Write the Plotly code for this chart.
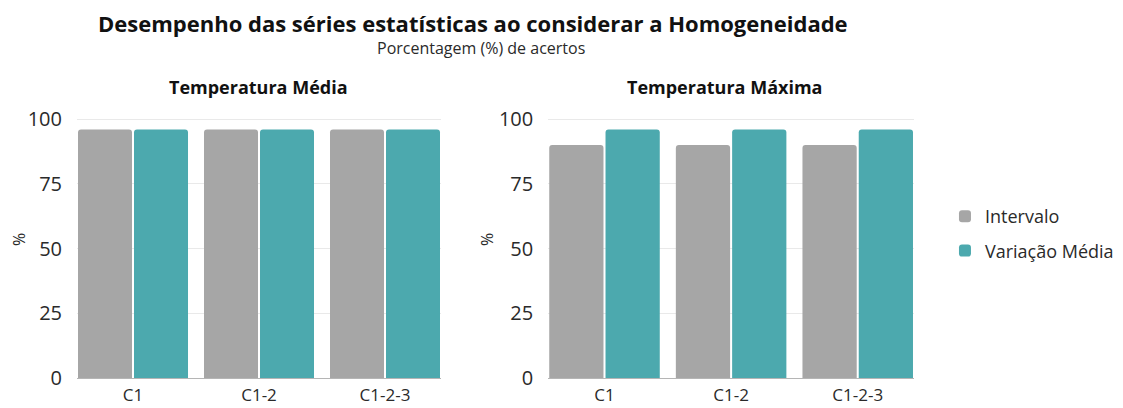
import plotly.graph_objects as go
from plotly.subplots import make_subplots

categories = ["C1", "C1-2", "C1-2-3"]
media_intervalo = [96, 96, 96]
media_variacao = [96, 96, 96]
maxima_intervalo = [90, 90, 90]
maxima_variacao = [96, 96, 96]
y_ticks = [0, 25, 50, 75, 100]

GRAY = "#a6a6a6"
TEAL = "#4ca9ae"
FONT = "Open Sans"

fig = make_subplots(rows=1, cols=2)

fig.add_trace(go.Bar(x=categories, y=media_intervalo, name="Intervalo", marker_color=GRAY,
                     legendgroup="a"), row=1, col=1)
fig.add_trace(go.Bar(x=categories, y=media_variacao, name="Variação Média", marker_color=TEAL,
                     legendgroup="b"), row=1, col=1)
fig.add_trace(go.Bar(x=categories, y=maxima_intervalo, name="Intervalo", marker_color=GRAY,
                     legendgroup="a", showlegend=False), row=1, col=2)
fig.add_trace(go.Bar(x=categories, y=maxima_variacao, name="Variação Média", marker_color=TEAL,
                     legendgroup="b", showlegend=False), row=1, col=2)

fig.update_traces(marker_line_width=0)

BARGAP = 0.111
domains = {1: [0.0, 0.4349], 2: [0.563, 1.0]}
for c in (1, 2):
    fig.update_yaxes(range=[0, 100.4], tickvals=y_ticks, showgrid=True, gridcolor="#e9e9e9",
                     gridwidth=1, zeroline=False, showline=False, ticks="",
                     tickfont=dict(size=20, color="#2a2a2a"), ticklabelstandoff=14,
                     automargin=False, row=1, col=c)
    fig.update_xaxes(domain=domains[c], range=[-0.5 + BARGAP / 2, 2.5 - BARGAP / 2],
                     showline=True, linecolor="#b5b5b5", linewidth=1, ticks="",
                     tickfont=dict(size=17, color="#2a2a2a"), ticklabelstandoff=2,
                     automargin=False, row=1, col=c)

# page has an 8px body margin, so the figure is 8px smaller and offset
fig.update_layout(
    width=1115, height=400,
    margin=dict(l=69, r=209, t=110, b=30, autoexpand=False),
    paper_bgcolor="white", plot_bgcolor="white",
    barmode="group", bargap=BARGAP, bargroupgap=0.036, barcornerradius=3,
    font=dict(family=FONT, color="#2a2a2a"),
    legend=dict(x=1.037, xanchor="left", y=0.556, yanchor="middle",
                font=dict(size=18, color="#2a2a2a"),
                tracegroupgap=8, traceorder="grouped"),
)

def add_text(text, x, y, size, bold=False, angle=0, color="#2a2a2a"):
    fig.add_annotation(text=f"<b>{text}</b>" if bold else text, xref="paper", yref="paper",
                       x=x, y=y, xanchor="center", yanchor="middle", showarrow=False,
                       textangle=angle, font=dict(size=size, color=color, family=FONT))

W, H, L, T = 837, 260, 77, 118   # plot-area geometry in page pixels
px = lambda xp: (xp - L) / W
py = lambda yp: 1 + (T - yp) / H

add_text("Desempenho das séries estatísticas ao considerar a Homogeneidade",
         px(473), py(22.5), 22, bold=True, color="#111")
add_text("Porcentagem (%) de acertos", px(481), py(47.5), 16)
add_text("Temperatura Média", px(258), py(87), 18, bold=True, color="#111")
add_text("Temperatura Máxima", px(724), py(87), 18, bold=True, color="#111")
add_text("%", px(19), py(240), 16, angle=-90)
add_text("%", px(487), py(240), 16, angle=-90)

fig.write_html("out.html")
